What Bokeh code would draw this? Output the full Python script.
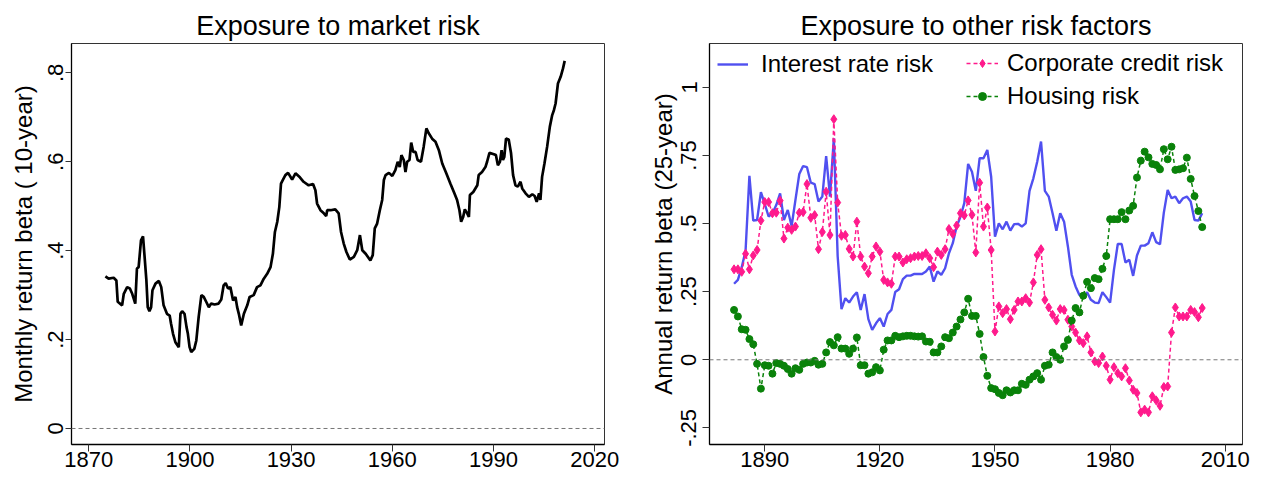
from bokeh.plotting import figure
from bokeh.layouts import row
from bokeh.models import Range1d, FixedTicker, Span, Legend, LegendItem
from bokeh.embed import file_html
from bokeh.resources import INLINE

FONT = "Liberation Sans"

# ---------------- data: left panel (monthly 10-year beta on market) ----------------
market_year = [
    1874.95, 1875.9, 1877.4, 1878.2, 1878.6, 1879.9, 1880.4, 1881.4, 1882.2, 1882.9,
    1883.8, 1884.3, 1884.8, 1885.5, 1886.1, 1886.5, 1887.1, 1887.5, 1888.0, 1888.5,
    1888.9, 1889.8, 1890.8, 1891.5, 1892.2, 1893.2, 1894.0, 1894.4, 1895.0, 1895.7,
    1896.7, 1897.2, 1897.7, 1898.4, 1899.0, 1899.4, 1899.9, 1900.4, 1901.3, 1901.9,
    1902.6, 1903.4, 1904.1, 1904.9, 1905.6, 1906.3, 1907.3, 1908.5, 1909.3, 1910.0,
    1910.6, 1911.3, 1912.0, 1912.8, 1913.5, 1914.0, 1914.5, 1915.2, 1916.0, 1917.0,
    1917.7, 1918.9, 1919.9, 1920.9, 1921.9, 1922.9, 1923.9, 1924.6, 1925.2, 1925.9,
    1926.5, 1927.0, 1927.6, 1928.3, 1929.1, 1930.3, 1931.3, 1932.6, 1933.7, 1935.2,
    1936.5, 1937.2, 1937.7, 1938.7, 1939.7, 1940.4, 1940.7, 1941.7, 1943.1, 1944.1,
    1944.8, 1945.6, 1946.4, 1947.4, 1948.6, 1949.6, 1950.4, 1951.1, 1952.1, 1953.5,
    1954.2, 1954.8, 1955.5, 1956.3, 1957.0, 1957.5, 1958.0, 1959.0, 1960.0, 1960.9,
    1961.6, 1962.2, 1962.7, 1963.4, 1963.9, 1964.4, 1965.1, 1965.6, 1966.2, 1966.9,
    1967.5, 1968.5, 1969.3, 1970.1, 1970.8, 1971.8, 1972.8, 1973.8, 1974.8, 1976.0,
    1977.2, 1978.4, 1979.2, 1979.9, 1980.4, 1981.0, 1981.5, 1982.2, 1982.7, 1983.0,
    1984.0, 1985.2, 1985.6, 1986.6, 1987.6, 1988.1, 1988.8, 1990.1, 1990.7, 1991.3,
    1991.9, 1992.4, 1992.8, 1993.2, 1993.7, 1994.5, 1995.2, 1995.8, 1996.5, 1997.2,
    1998.0, 1998.5, 1999.5, 2000.5, 2001.5, 2002.2, 2002.8, 2003.5, 2003.9, 2004.4,
    2005.1, 2005.9, 2006.7, 2007.4, 2007.9, 2008.4, 2009.1, 2009.9, 2010.6, 2011.1,
]
market_beta = [
    0.342, 0.337, 0.339, 0.333, 0.285, 0.277, 0.303, 0.318, 0.315, 0.303,
    0.281, 0.360, 0.363, 0.423, 0.432, 0.393, 0.333, 0.273, 0.264, 0.273,
    0.311, 0.326, 0.332, 0.318, 0.277, 0.258, 0.254, 0.236, 0.213, 0.194,
    0.183, 0.258, 0.264, 0.258, 0.228, 0.213, 0.183, 0.172, 0.179, 0.198,
    0.251, 0.300, 0.296, 0.284, 0.273, 0.281, 0.279, 0.281, 0.290, 0.322,
    0.327, 0.315, 0.318, 0.288, 0.296, 0.273, 0.258, 0.232, 0.258, 0.277,
    0.296, 0.300, 0.318, 0.322, 0.337, 0.348, 0.363, 0.393, 0.442, 0.465,
    0.498, 0.551, 0.560, 0.570, 0.575, 0.560, 0.574, 0.565, 0.555, 0.547,
    0.550, 0.536, 0.506, 0.491, 0.484, 0.478, 0.491, 0.491, 0.493, 0.484,
    0.442, 0.416, 0.397, 0.380, 0.386, 0.401, 0.435, 0.401, 0.393, 0.378,
    0.390, 0.450, 0.461, 0.491, 0.514, 0.559, 0.570, 0.575, 0.568, 0.581,
    0.600, 0.588, 0.615, 0.604, 0.577, 0.600, 0.604, 0.643, 0.622, 0.622,
    0.604, 0.600, 0.634, 0.675, 0.664, 0.652, 0.645, 0.626, 0.596, 0.574,
    0.551, 0.529, 0.514, 0.491, 0.465, 0.476, 0.493, 0.484, 0.476, 0.525,
    0.532, 0.547, 0.570, 0.577, 0.588, 0.600, 0.620, 0.617, 0.615, 0.592,
    0.600, 0.626, 0.604, 0.611, 0.652, 0.650, 0.619, 0.570, 0.547, 0.544,
    0.555, 0.540, 0.529, 0.521, 0.527, 0.523, 0.510, 0.529, 0.514, 0.566,
    0.596, 0.634, 0.679, 0.705, 0.716, 0.731, 0.776, 0.791, 0.810, 0.827,
]

# ---------------- data: right panel (annual 25-year betas) ----------------
risk_year = list(range(1882, 2005))
interest_rate = [
    0.279, 0.293, 0.340, 0.400, 0.675, 0.511, 0.513, 0.615,                  # 1882-1889
    0.572, 0.526, 0.538, 0.568, 0.611, 0.513, 0.550, 0.491, 0.587, 0.682,    # 1890s
    0.711, 0.707, 0.650, 0.645, 0.581, 0.599, 0.748, 0.599, 0.813, 0.380,    # 1900s
    0.186, 0.226, 0.210, 0.232, 0.248, 0.183, 0.241, 0.149, 0.110, 0.134,    # 1910s
    0.153, 0.122, 0.168, 0.183, 0.249, 0.259, 0.296, 0.309, 0.309, 0.315,    # 1920s
    0.315, 0.315, 0.324, 0.342, 0.287, 0.324, 0.312, 0.336, 0.391, 0.428,    # 1930s
    0.489, 0.525, 0.575, 0.719, 0.690, 0.620, 0.740, 0.740, 0.770, 0.672,    # 1940s
    0.452, 0.501, 0.479, 0.507, 0.474, 0.498, 0.499, 0.489, 0.501, 0.620,    # 1950s
    0.666, 0.727, 0.801, 0.620, 0.599, 0.538, 0.474, 0.538, 0.507, 0.416,    # 1960s
    0.312, 0.269, 0.238, 0.226, 0.248, 0.220, 0.210, 0.208, 0.248, 0.230,    # 1970s
    0.210, 0.330, 0.425, 0.425, 0.357, 0.367, 0.308, 0.383, 0.419, 0.419,    # 1980s
    0.428, 0.468, 0.432, 0.424, 0.540, 0.623, 0.593, 0.599, 0.575, 0.593,    # 1990s
    0.599, 0.581, 0.513, 0.511, 0.538,                                       # 2000-2004
]
corporate_credit = [
    0.332, 0.332, 0.323, 0.389, 0.332, 0.383, 0.403, 0.511,
    0.579, 0.579, 0.538, 0.540, 0.584, 0.445, 0.485, 0.477, 0.489, 0.540,
    0.542, 0.645, 0.521, 0.531, 0.406, 0.469, 0.617, 0.458, 0.883, 0.577,
    0.455, 0.458, 0.407, 0.379, 0.507, 0.379, 0.342, 0.318, 0.379, 0.416,
    0.397, 0.293, 0.284, 0.279, 0.379, 0.379, 0.357, 0.369, 0.373, 0.379,
    0.381, 0.381, 0.391, 0.373, 0.340, 0.397, 0.385, 0.406, 0.480, 0.462,
    0.493, 0.538, 0.530, 0.585, 0.532, 0.394, 0.650, 0.489, 0.559, 0.403,
    0.104, 0.196, 0.171, 0.186, 0.149, 0.183, 0.214, 0.214, 0.226, 0.210,
    0.284, 0.385, 0.406, 0.220, 0.192, 0.165, 0.144, 0.186, 0.183, 0.147,
    0.122, 0.100, 0.071, 0.061, 0.086, 0.027, -0.006, -0.012, 0.012, -0.022,
    -0.073, -0.027, -0.049, -0.061, -0.031, -0.076, -0.110, -0.122, -0.193, -0.183,
    -0.193, -0.134, -0.149, -0.169, -0.100, -0.098, 0.100, 0.192, 0.159, 0.159,
    0.159, 0.183, 0.175, 0.156, 0.190,
]
housing = [
    0.183, 0.159, 0.112, 0.110, 0.076, 0.057, -0.015, -0.106,
    -0.020, -0.022, -0.051, -0.012, -0.015, -0.022, -0.034, -0.051, -0.031, -0.037,
    -0.015, -0.010, -0.010, -0.004, -0.018, -0.015, 0.027, 0.065, 0.053, 0.083,
    0.041, 0.041, 0.022, 0.041, 0.082, -0.020, -0.020, -0.051, -0.046, -0.027,
    -0.039, 0.037, 0.071, 0.071, 0.088, 0.083, 0.086, 0.088, 0.088, 0.086,
    0.085, 0.086, 0.067, 0.066, 0.027, 0.027, 0.049, 0.083, 0.079, 0.100,
    0.122, 0.148, 0.174, 0.224, 0.161, 0.161, 0.095, 0.010, -0.059, -0.104,
    -0.108, -0.122, -0.130, -0.112, -0.120, -0.112, -0.112, -0.088, -0.092, -0.073,
    -0.061, -0.049, -0.073, -0.022, -0.018, 0.027, 0.010, 0.000, 0.049, 0.073,
    0.144, 0.190, 0.174, 0.235, 0.286, 0.263, 0.300, 0.296, 0.334, 0.381,
    0.516, 0.516, 0.516, 0.542, 0.516, 0.548, 0.565, 0.669, 0.731, 0.764,
    0.743, 0.719, 0.715, 0.699, 0.773, 0.736, 0.782, 0.697, 0.699, 0.703,
    0.742, 0.664, 0.601, 0.546, 0.487,
]

left_xticks = [1870, 1900, 1930, 1960, 1990, 2020]
left_yticks = [0, 0.2, 0.4, 0.6, 0.8]
left_ylabels = ["0", ".2", ".4", ".6", ".8"]
right_xticks = [1890, 1920, 1950, 1980, 2010]
right_yticks = [-0.25, 0, 0.25, 0.5, 0.75, 1]
right_ylabels = ["-.25", "0", ".25", ".5", ".75", "1"]

BLUE = "#5050f0"
PINK = "#ff1a8c"
GREEN = "#0a820a"
TICK_FS = "22px"
LABEL_FS = "24px"
LEGEND_FS = "24px"
TITLE_FS = "27px"
FIG_H = 477
TOP = 43
BOTTOM = 33


def style(p, xticks, yticks, ylabels, ylab, tick_out_y, y_standoff, ylab_standoff):
    p.title.text_font = FONT
    p.title.text_font_size = TITLE_FS
    p.title.text_font_style = "normal"
    p.title.text_color = "black"
    p.title.align = "center"
    p.title.standoff = 5
    p.outline_line_color = "#333333"
    p.outline_line_width = 1
    p.xgrid.visible = False
    p.ygrid.visible = False
    p.background_fill_color = "white"
    p.border_fill_color = "white"

    xa = p.xaxis[0]
    xa.ticker = FixedTicker(ticks=xticks)
    xa.minor_tick_line_color = None
    xa.major_tick_out = 7
    xa.major_tick_in = 0
    xa.major_label_standoff = 0
    xa.major_label_text_font = FONT
    xa.major_label_text_font_size = TICK_FS
    xa.major_label_text_color = "black"
    xa.axis_line_color = "black"
    xa.axis_line_width = 1.3
    xa.major_tick_line_color = "#333333"

    ya = p.yaxis[0]
    ya.ticker = FixedTicker(ticks=yticks)
    ya.major_label_overrides = {t: l for t, l in zip(yticks, ylabels)}
    ya.major_label_orientation = "vertical"
    ya.minor_tick_line_color = None
    ya.major_tick_out = tick_out_y
    ya.major_tick_in = 0
    ya.major_label_standoff = y_standoff
    ya.major_label_text_font = FONT
    ya.major_label_text_font_size = TICK_FS
    ya.major_label_text_color = "black"
    ya.axis_line_color = "black"
    ya.axis_line_width = 1.3
    ya.major_tick_line_color = "#333333"
    ya.axis_label = ylab
    ya.axis_label_text_font = FONT
    ya.axis_label_text_font_size = LABEL_FS
    ya.axis_label_text_font_style = "normal"
    ya.axis_label_text_color = "black"
    ya.axis_label_standoff = ylab_standoff

    zero = Span(location=0, dimension="width", line_color="#777777",
                line_width=1, line_dash="4 3")
    p.add_layout(zero)


# ---------------- left panel ----------------
p1 = figure(width=638, height=FIG_H, output_backend="svg", toolbar_location=None,
            title="Exposure to market risk",
            x_range=Range1d(1864.9, 2022.9), y_range=Range1d(-0.036, 0.866),
            min_border_left=71, min_border_right=34, min_border_top=TOP,
            min_border_bottom=BOTTOM)
style(p1, left_xticks, left_yticks, left_ylabels,
      "Monthly return beta ( 10-year)", 6, 2, 9)
p1.line(market_year, market_beta, line_color="black", line_width=2.7)

# ---------------- right panel ----------------
p2 = figure(width=627, height=FIG_H, output_backend="svg", toolbar_location=None,
            title="Exposure to other risk factors",
            x_range=Range1d(1875.6, 2014.5), y_range=Range1d(-0.311, 1.161),
            min_border_left=71, min_border_right=23, min_border_top=TOP,
            min_border_bottom=BOTTOM)
style(p2, right_xticks, right_yticks, right_ylabels,
      "Annual return beta (25-year)", 7, 6, 2)

r_int = p2.line(risk_year, interest_rate, line_color=BLUE, line_width=2.4)
r_cc_l = p2.line(risk_year, corporate_credit, line_color=PINK, line_width=1.5,
                 line_dash="4 3")
r_cc_m = p2.scatter(risk_year, corporate_credit, marker="diamond", size=9,
                    fill_color=PINK, line_color=PINK)
r_h_l = p2.line(risk_year, housing, line_color=GREEN, line_width=1.5, line_dash="4 3")
r_h_m = p2.scatter(risk_year, housing, marker="circle", size=7,
                   fill_color=GREEN, line_color=GREEN)

FRAME_H = FIG_H - TOP - BOTTOM

leg_a = Legend(items=[LegendItem(label="Interest rate risk", renderers=[r_int])],
               location=(8, FRAME_H - 8 - 27), padding=0, margin=0, spacing=5,
               glyph_width=31, glyph_height=20, label_height=27,
               label_standoff=13, border_line_color=None,
               background_fill_alpha=0, label_text_font=FONT,
               label_text_font_size=LEGEND_FS, label_text_color="black")
leg_b = Legend(items=[LegendItem(label="Corporate credit risk", renderers=[r_cc_l, r_cc_m]),
                      LegendItem(label="Housing risk", renderers=[r_h_l, r_h_m])],
               location=(257, FRAME_H - 8 - 59), padding=0, margin=0, spacing=5,
               glyph_width=32, glyph_height=20, label_height=27,
               label_standoff=9, border_line_color=None,
               background_fill_alpha=0, label_text_font=FONT,
               label_text_font_size=LEGEND_FS, label_text_color="black")
p2.add_layout(leg_a)
p2.add_layout(leg_b)

layout = row(p1, p2)
open("out.html", "w").write(file_html(layout, INLINE))
